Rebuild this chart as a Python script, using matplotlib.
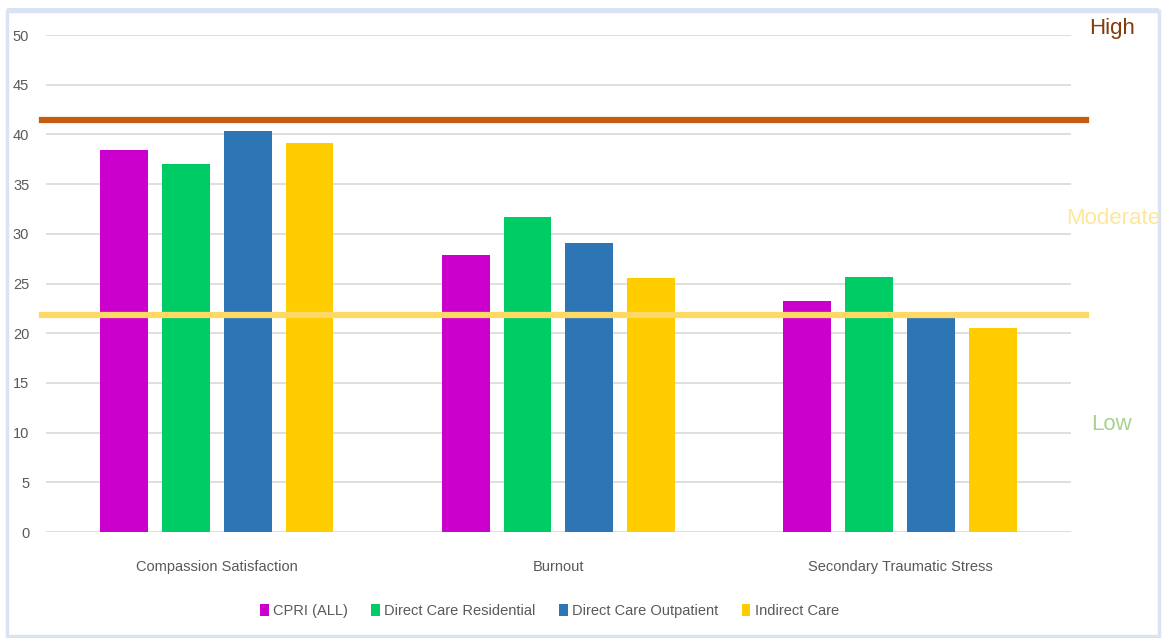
import numpy as np
import matplotlib.pyplot as plt
from matplotlib.patches import Rectangle

plt.rcParams['font.family'] = ['Liberation Sans Narrow', 'Liberation Sans', 'DejaVu Sans']

# Dati
categories = ['Compassion Satisfaction', 'Burnout', 'Secondary Traumatic Stress']
series_names = ['CPRI (ALL)', 'Direct Care Residential', 'Direct Care Outpatient', 'Indirect Care']
cpri_all = [38.4, 27.9, 23.2]
dc_residential = [37.0, 31.7, 25.7]
dc_outpatient = [40.4, 29.1, 21.6]
indirect_care = [39.1, 25.6, 20.5]
colors = ['#CC00CC', '#00CC66', '#2E75B6', '#FFCC00']

high_cut = 41.5
low_cut = 21.8

fig = plt.figure(figsize=(11.64, 6.38), dpi=100)
ax = fig.add_axes([0.0395, 0.166, 0.8805, 0.779])

# cornice azzurra
fig.patches.append(Rectangle((0.006, 0.003), 0.99, 0.98, transform=fig.transFigure,
                             fill=False, edgecolor='#DAE3F3', linewidth=2.5, zorder=0))
fig.patches.append(Rectangle((0.006, 0.979), 0.99, 0.009, transform=fig.transFigure,
                             facecolor='#DAE3F3', edgecolor='none', zorder=0))

x = np.arange(len(categories))
pitch = 0.181
width = 0.14
all_series = [cpri_all, dc_residential, dc_outpatient, indirect_care]
for i, (vals, name, col) in enumerate(zip(all_series, series_names, colors)):
    ax.bar(x + (i - 1.5) * pitch, vals, width, color=col, label=name, zorder=2)

ax.axhline(high_cut, xmin=-0.004, xmax=1.015, color='#C55A11', linewidth=4.5, clip_on=False, zorder=3)
ax.axhline(low_cut, xmin=-0.004, xmax=1.015, color='#FFD966', linewidth=4.5, clip_on=False, zorder=3)

ax.set_xlim(-0.5, 2.5)
ax.set_ylim(0, 50)
ax.set_yticks(range(0, 51, 5))
ax.set_xticks(x)
ax.set_xticklabels(categories)
ax.grid(axis='y', color='#D9D9D9', linewidth=1.2, zorder=0)
ax.set_axisbelow(True)
for s in ax.spines.values():
    s.set_visible(False)
ax.tick_params(axis='both', length=0, colors='#595959', labelsize=10.5)
ax.tick_params(axis='x', pad=20)
ax.tick_params(axis='y', pad=12)

fig.text(0.955, 0.955, 'High', color='#843C0C', fontsize=16, ha='center', va='center')
fig.text(0.956, 0.657, 'Moderate', color='#FFE699', fontsize=16, ha='center', va='center')
fig.text(0.955, 0.334, 'Low', color='#A9D18E', fontsize=16, ha='center', va='center')

fig.legend(loc='center', bbox_to_anchor=(0.472, 0.042), ncol=4, frameon=False,
           fontsize=10.5, handlelength=0.6, handleheight=0.9, handletextpad=0.3,
           columnspacing=1.6, labelcolor='#595959')

fig.savefig('out.png', dpi=100)
